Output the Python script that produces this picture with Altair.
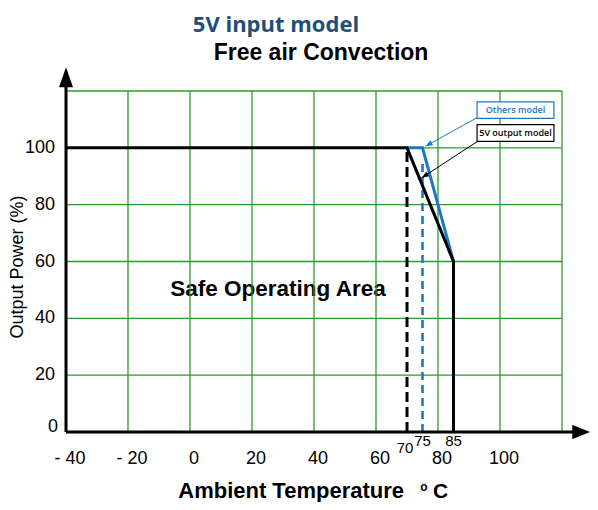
import math
import altair as alt
import pandas as pd

# ---------------- data ----------------
grid_x = [-20, 0, 20, 40, 60, 80, 100, 120]
grid_y = [20, 40, 60, 80, 100, 120]
x_tick_vals = [-40, -20, 0, 20, 40, 60, 80, 100]
x_tick_text = ["- 40", "- 20", "0", "20", "40", "60", "80", "100"]
y_tick_vals = [20, 40, 60, 80, 100]
y_tick_text = ["20", "40", "60", "80", "100"]
mark_vals = [75, 85]
mark_text = ["75", "85"]
mark70_val = [70]
mark70_text = ["70"]

black_temp = [-40, 70, 85, 85]
black_power = [100, 100, 60, 0]
blue_temp = [70, 75, 85]
blue_power = [100, 100, 60]

black_dash_temp = 70
blue_dash_temp = 75

# annotation boxes (x0, x1, y0, y1) and arrows (from -> to), in data units
box_names = ["Others model", "5V output model"]
box_x0 = [92.6, 92.6]
box_x1 = [117.4, 117.4]
box_y0 = [110.4, 102.3]
box_y1 = [116.2, 108.2]
arrow_x0 = [92.6, 93.5]
arrow_y0 = [110.6, 102.8]
arrow_x1 = [76.0, 74.8]
arrow_y1 = [100.6, 89.5]

# ---------------- layout ----------------
W, H = 496, 341
XD = [-40, 120]
YD = [0, 120]
SX = W / (XD[1] - XD[0])
SY = H / (YD[1] - YD[0])
GREEN = "#2e9a2e"
BLUE = "#1b78c8"
ARIAL = "Liberation Sans"

xs = alt.Scale(domain=XD, nice=False, zero=False)
ys = alt.Scale(domain=YD, nice=False, zero=False)


def X(f):
    return alt.X(f, type="quantitative", scale=xs, axis=None)


def Y(f):
    return alt.Y(f, type="quantitative", scale=ys, axis=None)


def X2(f):
    return alt.X2(f)


def Y2(f):
    return alt.Y2(f)


one = pd.DataFrame({"k": [0]})

# Safe Operating Area text (under gridlines)
soa = alt.Chart(pd.DataFrame({"t": ["Safe Operating Area"], "x": [28.4], "y": [50.3]})).mark_text(
    font=ARIAL, fontSize=22.5, fontWeight="bold", color="black"
).encode(x=X("x"), y=Y("y"), text="t:N")

vgrid_df = pd.DataFrame({"x": grid_x, "y0": YD[0], "y1": YD[1]})
vgrid = alt.Chart(vgrid_df).mark_rule(color=GREEN, strokeWidth=1.3).encode(
    x=X("x"), y=Y("y0"), y2=Y2("y1")
)
hgrid_df = pd.DataFrame({"y": grid_y, "x0": XD[0], "x1": XD[1]})
hgrid = alt.Chart(hgrid_df).mark_rule(color=GREEN, strokeWidth=1.3).encode(
    y=Y("y"), x=X("x0"), x2=X2("x1")
)

bdash = alt.Chart(pd.DataFrame({"x": [black_dash_temp], "y0": [0], "y1": [100]})).mark_rule(
    color="black", strokeWidth=3, strokeDash=[10, 5]
).encode(x=X("x"), y=Y("y0"), y2=Y2("y1"))
udash = alt.Chart(pd.DataFrame({"x": [blue_dash_temp], "y0": [0], "y1": [96]})).mark_rule(
    color=BLUE, strokeWidth=2.6, strokeDash=[8, 5]
).encode(x=X("x"), y=Y("y0"), y2=Y2("y1"))

blue_df = pd.DataFrame({"t": blue_temp, "p": blue_power, "o": list(range(len(blue_temp)))})
blue_line = alt.Chart(blue_df).mark_line(color=BLUE, strokeWidth=3).encode(
    x=X("t"), y=Y("p"), order="o:Q"
)
black_df = pd.DataFrame({"t": black_temp, "p": black_power, "o": list(range(len(black_temp)))})
black_line = alt.Chart(black_df).mark_line(color="black", strokeWidth=3).encode(
    x=X("t"), y=Y("p"), order="o:Q"
)

# axes with arrows
axis_df = pd.DataFrame({"x0": [-40], "y0": [0], "ytop": [123], "xend": [126],
                        "yhead": [124.8], "xhead": [126.2]})
yaxis = alt.Chart(axis_df).mark_rule(color="black", strokeWidth=3).encode(
    x=X("x0"), y=Y("y0"), y2=Y2("ytop")
)
xaxis = alt.Chart(axis_df).mark_rule(color="black", strokeWidth=3).encode(
    y=Y("y0"), x=X("x0"), x2=X2("xend")
)
yhead = alt.Chart(axis_df).mark_point(
    shape="M0,-1L0.7,1L-0.7,1Z", filled=True, color="black", opacity=1, size=400
).encode(x=X("x0"), y=Y("yhead"))
xhead = alt.Chart(axis_df).mark_point(
    shape="M1,0L-1,0.8L-1,-0.8Z", filled=True, color="black", opacity=1, size=324
).encode(x=X("xhead"), y=Y("y0"))

# tick labels
xt = alt.Chart(pd.DataFrame({"v": x_tick_vals, "t": x_tick_text})).mark_text(
    font=ARIAL, fontSize=18, color="black", dx=4
).encode(x=X("v"), y=alt.value(H + 27), text="t:N")
mt = alt.Chart(pd.DataFrame({"v": mark_vals, "t": mark_text})).mark_text(
    font=ARIAL, fontSize=15, color="black"
).encode(x=X("v"), y=alt.value(H + 9), text="t:N")
mt70 = alt.Chart(pd.DataFrame({"v": mark70_val, "t": mark70_text})).mark_text(
    font=ARIAL, fontSize=15, color="black", dx=-2
).encode(x=X("v"), y=alt.value(H + 16), text="t:N")
yt = alt.Chart(pd.DataFrame({"v": y_tick_vals, "t": y_tick_text})).mark_text(
    font=ARIAL, fontSize=18, color="black", align="right"
).encode(x=alt.value(-11), y=Y("v"), text="t:N")
yt0 = alt.Chart(pd.DataFrame({"v": [0], "t": ["0"]})).mark_text(
    font=ARIAL, fontSize=18, color="black", align="right", dy=-5
).encode(x=alt.value(-8), y=Y("v"), text="t:N")

# annotation boxes
box_df = pd.DataFrame({
    "name": box_names, "x0": box_x0, "x1": box_x1, "y0": box_y0, "y1": box_y1,
    "xm": [(a + b) / 2 for a, b in zip(box_x0, box_x1)],
    "ym": [(a + b) / 2 for a, b in zip(box_y0, box_y1)],
})
box_col = alt.Scale(domain=box_names, range=[BLUE, "black"])
boxes = alt.Chart(box_df).mark_rect(fill="white", strokeWidth=1.2).encode(
    x=X("x0"), x2=X2("x1"), y=Y("y0"), y2=Y2("y1"),
    stroke=alt.Stroke("name:N", scale=box_col, legend=None),
)
box_text = alt.Chart(box_df).mark_text(font="Open Sans", fontSize=9, fontWeight=600).encode(
    x=X("xm"), y=Y("ym"), text="name:N",
    color=alt.Color("name:N", scale=box_col, legend=None),
)

ang = []
for a, b, c, d in zip(arrow_x0, arrow_y0, arrow_x1, arrow_y1):
    dx = (c - a) * SX
    dy = -(d - b) * SY
    ang.append(math.degrees(math.atan2(dx, -dy)) % 360)
arr_df = pd.DataFrame({
    "name": box_names, "x0": arrow_x0, "y0": arrow_y0, "x1": arrow_x1, "y1": arrow_y1, "ang": ang,
})
arrows = alt.Chart(arr_df).mark_rule(strokeWidth=1).encode(
    x=X("x0"), y=Y("y0"), x2=X2("x1"), y2=Y2("y1"),
    color=alt.Color("name:N", scale=box_col, legend=None),
)
heads = alt.Chart(arr_df).mark_point(
    shape="M0,0L0.4,1L-0.4,1Z", filled=True, opacity=1, size=196
).encode(
    x=X("x1"), y=Y("y1"), angle=alt.Angle("ang:Q", scale=None),
    color=alt.Color("name:N", scale=box_col, legend=None),
)

# titles
t1 = alt.Chart(one).mark_text(
    text="5V input model", font="Open Sans", fontSize=22, fontWeight="bold",
    color="#1f4e79", baseline="alphabetic"
).encode(x=alt.value(210), y=alt.value(-59.5))
t2 = alt.Chart(one).mark_text(
    text="Free air Convection", font=ARIAL, fontSize=23, fontWeight="bold",
    color="black", baseline="alphabetic"
).encode(x=alt.value(255), y=alt.value(-31))
xtitle = alt.Chart(one).mark_text(
    text="Ambient Temperature", font=ARIAL, fontSize=22, fontWeight="bold", color="black",
    align="right", baseline="alphabetic"
).encode(x=alt.value(338), y=alt.value(407))
xdeg = alt.Chart(one).mark_text(
    text="o", font=ARIAL, fontSize=12, fontWeight="bold", color="black"
).encode(x=alt.value(358), y=alt.value(396))
xC = alt.Chart(one).mark_text(
    text="C", font=ARIAL, fontSize=21, fontWeight="bold", color="black",
    align="left", baseline="alphabetic"
).encode(x=alt.value(367), y=alt.value(407))
ytitle = alt.Chart(one).mark_text(
    text="Output Power (%)", font=ARIAL, fontSize=18, color="black", angle=270
).encode(x=alt.value(-48), y=alt.value(176))

chart = alt.layer(
    soa, vgrid, hgrid, bdash, udash, blue_line, black_line,
    yaxis, xaxis, yhead, xhead, xt, mt, mt70, yt, yt0,
    arrows, heads, boxes, box_text, t1, t2, xtitle, xdeg, xC, ytitle,
).properties(
    width=W, height=H,
    autosize=alt.AutoSizeParams(type="none"),
    padding={"left": 58, "top": 83, "right": 28, "bottom": 70},
    background="white",
).configure_view(strokeWidth=0)

chart.save("out.html", embed_options={"renderer": "svg", "actions": False})
